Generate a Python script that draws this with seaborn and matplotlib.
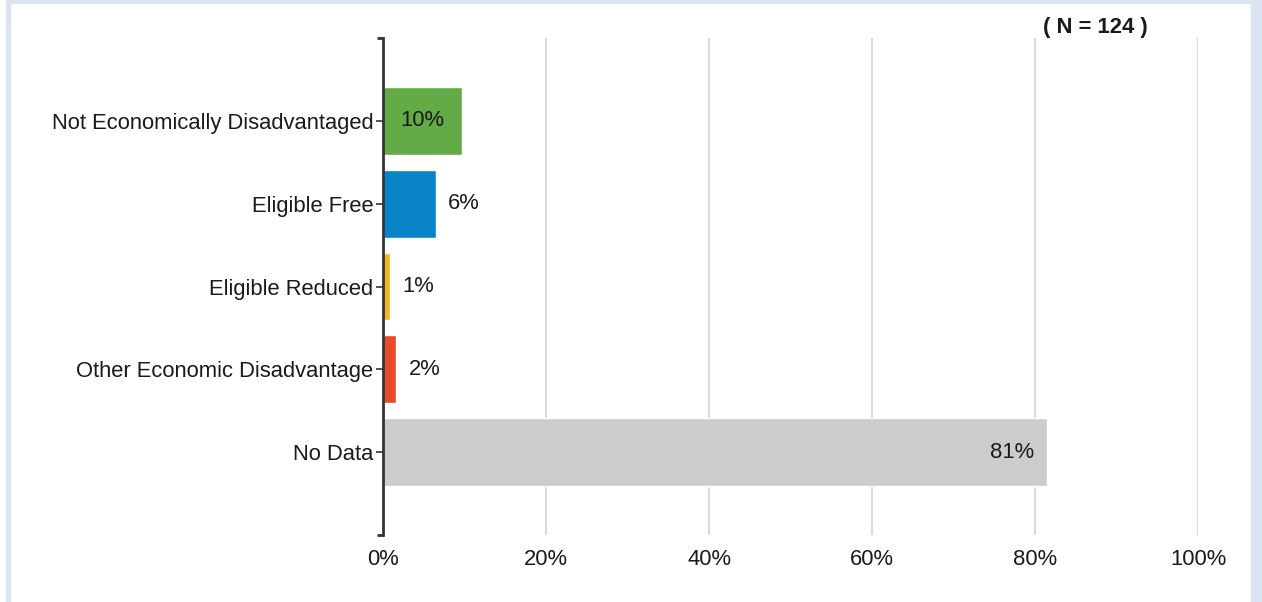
import matplotlib
matplotlib.use('Agg')
import matplotlib.pyplot as plt
from matplotlib.patches import Rectangle
from matplotlib.ticker import PercentFormatter
import seaborn as sns
import pandas as pd

categories = ['Not Economically Disadvantaged', 'Eligible Free', 'Eligible Reduced',
              'Other Economic Disadvantage', 'No Data']
counts = [12, 8, 1, 2, 101]
total_n = 124
percents = [c / total_n * 100 for c in counts]
bar_colors = ['#62ab47', '#0a84c8', '#f2b42a', '#e84a2a', '#cccccc']
x_ticks = [0, 20, 40, 60, 80, 100]

df = pd.DataFrame({'category': categories, 'percent': percents})

sns.set_style('white')
plt.rcParams['font.family'] = ['Liberation Sans', 'DejaVu Sans']

W, H = 1262, 602
FS = 15.8
fig = plt.figure(figsize=(W / 100, H / 100), dpi=100)
ax = fig.add_axes([383 / W, 1 - 535 / H, (1198 - 383) / W, (535 - 38) / H])

sns.barplot(data=df, x='percent', y='category', hue='category', palette=bar_colors,
            legend=False, width=0.82, ax=ax, saturation=1)

ax.set_xlim(0, 100)
ax.set_ylim(len(categories), -1)
ax.set_xticks(x_ticks)
ax.xaxis.set_major_formatter(PercentFormatter(decimals=0))
ax.grid(axis='x', color='#dadada', linewidth=1.5)
ax.set_axisbelow(True)
for s in ['top', 'right', 'bottom']:
    ax.spines[s].set_visible(False)
ax.spines['left'].set_color('#333333')
ax.spines['left'].set_linewidth(2)
ax.set_xlabel('')
ax.set_ylabel('')
ax.tick_params(axis='y', length=5, width=1.2, color='#333333', labelsize=FS,
               labelcolor='#1a1a1a', pad=2, left=True)
ax.tick_params(axis='x', length=0, labelsize=FS, labelcolor='#1a1a1a', pad=10)

# end caps on the axis line
for yv in [-1, len(categories)]:
    ax.plot([-0.7, 0], [yv, yv], color='#333333', lw=2, clip_on=False,
            solid_capstyle='butt')

# value labels
for i, cont in enumerate(ax.containers):
    p = percents[i]
    lbl = f'{p:.0f}%'
    if p > 50:
        ax.bar_label(cont, labels=[lbl], label_type='edge', padding=-41,
                     fontsize=FS, color='#1a1a1a')
    elif p > 8:
        ax.bar_label(cont, labels=[lbl], label_type='center', fontsize=FS,
                     color='#1a1a1a')
    else:
        ax.bar_label(cont, labels=[lbl], label_type='edge', padding=9,
                     fontsize=FS, color='#1a1a1a')

ax.text(0.9387, 1.021, f'( N = {total_n} )', transform=ax.transAxes, ha='right',
        va='center', fontsize=FS, fontweight='bold', color='#1a1a1a')

# light blue frame strips
frame_col = '#dce3f1'
fig.patches.append(Rectangle((6 / W, 0), 4 / W, 1, transform=fig.transFigure,
                             color=frame_col, zorder=0))
fig.patches.append(Rectangle((1251 / W, 0), 11 / W, 1, transform=fig.transFigure,
                             color=frame_col, zorder=0))
fig.patches.append(Rectangle((6 / W, 1 - 3 / H), 1245 / W, 3 / H, transform=fig.transFigure,
                             color=frame_col, zorder=0))

fig.savefig('out.png', dpi=100, facecolor='white')
